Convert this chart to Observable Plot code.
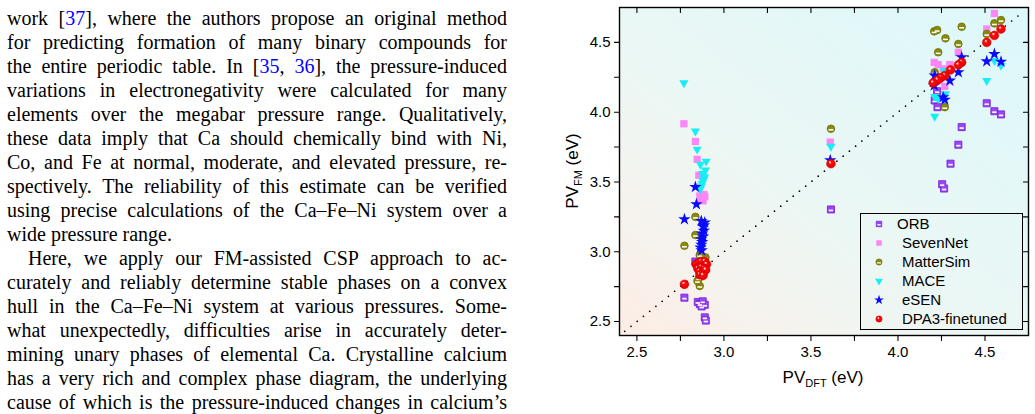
<!DOCTYPE html>
<html>
<head>
<meta charset="utf-8">
<script src="https://cdn.jsdelivr.net/npm/d3@7"></script>
<script src="https://cdn.jsdelivr.net/npm/@observablehq/plot@0.6"></script>
<style>
  body { margin: 0; background: #fff; }
  #page { position: relative; width: 1035px; height: 414px; overflow: hidden; }
  #text { position: absolute; left: 7px; top: 6.0px; width: 500px;
          font-family: "Liberation Serif", "DejaVu Serif", serif; font-size: 20px;
          line-height: 24.0px; color: #000; }
  #text .l { text-align: justify; text-align-last: justify; white-space: normal; }
  #text .last { text-align: left; text-align-last: left; }
  #text .ind { text-indent: 21px; }
  #text a { color: #0000ff; text-decoration: none; }
  #chart { position: absolute; left: 540px; top: 0; }
  .axlab { position: absolute; font-family: "Liberation Sans", Arial, sans-serif;
           font-size: 17px; color: #000; white-space: nowrap; }
  .axlab sub { font-size: 11px; vertical-align: -4px; line-height: 0; }
  #legend { position: absolute; left: 860px; top: 212.7px; width: 160.7px; height: 115.6px;
            border: 1px solid #000; font-family: "Liberation Sans", Arial, sans-serif;
            font-size: 15px; color: #000; }
  #legend .row { position: absolute; white-space: nowrap; }
  #legend svg { position: absolute; overflow: visible; }
</style>
</head>
<body>
<div id="page">
  <div id="text">
    <div class="l">work [<a>37</a>], where the authors propose an original method</div>
    <div class="l">for predicting formation of many binary compounds for</div>
    <div class="l">the entire periodic table. In [<a>35</a>, <a>36</a>], the pressure-induced</div>
    <div class="l">variations in electronegativity were calculated for many</div>
    <div class="l">elements over the megabar pressure range. Qualitatively,</div>
    <div class="l">these data imply that Ca should chemically bind with Ni,</div>
    <div class="l">Co, and Fe at normal, moderate, and elevated pressure, re-</div>
    <div class="l">spectively. The reliability of this estimate can be verified</div>
    <div class="l">using precise calculations of the Ca–Fe–Ni system over a</div>
    <div class="l last">wide pressure range.</div>
    <div class="l ind">Here, we apply our FM-assisted CSP approach to ac-</div>
    <div class="l">curately and reliably determine stable phases on a convex</div>
    <div class="l">hull in the Ca–Fe–Ni system at various pressures. Some-</div>
    <div class="l">what unexpectedly, difficulties arise in accurately deter-</div>
    <div class="l">mining unary phases of elemental Ca. Crystalline calcium</div>
    <div class="l">has a very rich and complex phase diagram, the underlying</div>
    <div class="l">cause of which is the pressure-induced changes in calcium’s</div>
  </div>
  <div id="chart"></div>
  <div class="axlab" id="ylab" style="left:573px; top:171px; transform: translate(-50%,-50%) rotate(-90deg);">PV<sub>FM</sub> (eV)</div>
  <div class="axlab" id="xlab" style="left:823px; top:378px; transform: translate(-50%,-50%);">PV<sub>DFT</sub> (eV)</div>
  <div id="legend"></div>
</div>
<script>
// Pressure × volume term: DFT reference (x) against each foundation model (y), eV
const orb = [
  [2.773, 2.671], [2.836, 2.93], [2.85, 2.64], [2.862, 2.625], [2.878, 2.645], [2.89, 2.62],
  [2.872, 2.608], [2.89, 2.53], [2.896, 2.507],
  [3.615, 3.303],
  [4.211, 4.084], [4.227, 4.036], [4.225, 4.15], [4.366, 3.893], [4.347, 3.767], [4.302, 3.631],
  [4.254, 3.484], [4.265, 3.453], [4.51, 4.064], [4.554, 4.007], [4.592, 3.984]
];
const sevenNet = [
  [2.77, 3.917], [2.836, 3.79], [2.846, 3.662], [2.856, 3.548], [2.862, 3.40], [2.875, 3.385],
  [2.89, 3.395], [2.88, 3.365], [2.868, 3.375], [2.885, 3.41],
  [3.611, 3.786],
  [4.554, 4.707], [4.51, 4.596], [4.347, 4.429], [4.208, 4.357], [4.231, 4.341], [4.298, 4.341],
  [4.26, 4.31], [4.269, 4.184], [4.231, 4.226]
];
const matterSim = [
  [2.836, 3.25], [2.836, 3.12], [2.773, 3.043], [2.861, 2.976], [2.894, 2.96], [2.856, 2.81],
  [2.861, 2.755], [2.848, 2.79], [2.885, 2.85], [2.88, 2.9],
  [3.615, 3.881],
  [4.208, 4.579], [4.225, 4.589], [4.273, 4.529], [4.366, 4.612], [4.347, 4.489], [4.231, 4.429],
  [4.211, 4.286], [4.269, 4.036], [4.51, 4.56], [4.554, 4.636], [4.592, 4.66]
];
const mace = [
  [2.77, 4.21], [2.836, 3.864], [2.846, 3.734], [2.865, 3.626], [2.898, 3.648], [2.894, 3.584],
  [2.888, 3.536], [2.88, 3.51], [2.875, 3.49], [2.87, 3.47], [2.865, 3.45], [2.885, 3.52], [2.878, 3.56],
  [3.615, 3.755],
  [4.554, 4.369], [4.592, 4.334], [4.51, 4.226], [4.211, 4.112], [4.231, 4.096], [4.273, 4.131],
  [4.265, 4.298], [4.211, 3.969]
];
const eSEN = [
  [2.773, 3.233], [2.842, 3.34], [2.836, 3.464],
  [2.87, 3.22], [2.89, 3.21], [2.88, 3.18], [2.885, 3.15], [2.875, 3.13], [2.88, 3.11], [2.87, 3.09],
  [2.875, 3.07], [2.87, 3.05], [2.865, 3.03], [2.872, 3.01], [2.885, 3.19],
  [3.611, 3.655],
  [4.366, 4.393], [4.347, 4.286], [4.298, 4.226], [4.211, 4.262], [4.208, 4.191], [4.26, 4.107],
  [4.269, 4.089], [4.51, 4.364], [4.554, 4.417], [4.592, 4.362]
];
const dpa3 = [
  [2.773, 2.767], [2.84, 2.91], [2.855, 2.92], [2.87, 2.93], [2.89, 2.93], [2.9, 2.91], [2.85, 2.88],
  [2.87, 2.89], [2.885, 2.88], [2.86, 2.86], [2.875, 2.85], [2.895, 2.87], [2.862, 2.835], [2.88, 2.83],
  [3.615, 3.631],
  [4.51, 4.5], [4.554, 4.55], [4.592, 4.596], [4.366, 4.357], [4.347, 4.339], [4.302, 4.303],
  [4.269, 4.262], [4.246, 4.246], [4.227, 4.231], [4.202, 4.21]
];

const seriesNames = ["ORB", "SevenNet", "MatterSim", "MACE", "eSEN", "DPA3-finetuned"];
const axisDomain = [2.4, 4.75];
const majorTicks = [2.5, 3.0, 3.5, 4.0, 4.5];
const allTicks = [2.5, 2.75, 3.0, 3.25, 3.5, 3.75, 4.0, 4.25, 4.5];
const parityLine = [2.43, 4.71];

// symbol helpers (size = area, as d3 symbols expect)
const barInSquare = {draw(ctx, size) { const s = Math.sqrt(size); ctx.rect(-0.3 * s, 0.02 * s, 0.6 * s, 0.24 * s); }};
const barInCircle = {draw(ctx, size) { const d = 2 * Math.sqrt(size / Math.PI); ctx.rect(-0.32 * d, 0.04 * d, 0.64 * d, 0.2 * d); }};
const tickShape = {draw(ctx, l) { ctx.moveTo(0, 0); ctx.lineTo(0, -l); }};

const X = d => d[0], Y = d => d[1];
const styles = {
  ORB: {fill: "#9a46f6", stroke: "#7420d4"},
  SevenNet: {fill: "#fb86f6"},
  MatterSim: {fill: "#8a8a10", stroke: "#6f6f00"},
  MACE: {fill: "#18ecf4"},
  eSEN: {fill: "#0a0aff"},
  DPA3: {fill: "url(#ball)", stroke: "#d00000"}
};

const chart = Plot.plot({
  width: 495, height: 400,
  marginLeft: 79, marginRight: 7, marginTop: 7, marginBottom: 65,
  style: {fontFamily: "'Liberation Sans', Arial, sans-serif", fontSize: "15px", color: "#000", background: "transparent", overflow: "visible"},
  x: {domain: axisDomain},
  y: {domain: axisDomain},
  marks: [
    Plot.frame({fill: "url(#bgGrad)"}),
    Plot.line(parityLine, {x: d => d, y: d => d, stroke: "#000", strokeWidth: 1.7,
      strokeDasharray: "0 8", strokeLinecap: "round"}),
    // ORB: square with open lower band
    Plot.dot(orb, {x: X, y: Y, symbol: "square", r: 4, ...styles.ORB, strokeWidth: 0.8}),
    Plot.dot(orb, {x: X, y: Y, symbol: barInSquare, r: 4, fill: "#fff"}),
    Plot.dot(sevenNet, {x: X, y: Y, symbol: "square", r: 4.1, ...styles.SevenNet}),
    // MatterSim: circle with open lower band
    Plot.dot(matterSim, {x: X, y: Y, symbol: "circle", r: 3.8, ...styles.MatterSim, strokeWidth: 0.8}),
    Plot.dot(matterSim, {x: X, y: Y, symbol: barInCircle, r: 3.8, fill: "#fff"}),
    Plot.dot(mace, {x: X, y: Y, symbol: "triangle", r: 3.4, rotate: 180, ...styles.MACE}),
    Plot.dot(eSEN, {x: X, y: Y, symbol: "star", r: 3.9, ...styles.eSEN}),
    Plot.dot(dpa3, {x: X, y: Y, symbol: "circle", r: 4.4, ...styles.DPA3, strokeWidth: 0.5}),
    Plot.frame({stroke: "#000", strokeWidth: 1.4}),
    // ticks: outward on bottom/left, inward on top/right
    Plot.vector(allTicks, {x: d => d, frameAnchor: "bottom", length: 5, rotate: 180, anchor: "start", shape: tickShape, stroke: "#000", strokeWidth: 1.1}),
    Plot.vector(allTicks, {x: d => d, frameAnchor: "top", length: 5, rotate: 180, anchor: "start", shape: tickShape, stroke: "#000", strokeWidth: 1.1}),
    Plot.vector(allTicks, {y: d => d, frameAnchor: "left", length: 5, rotate: 270, anchor: "start", shape: tickShape, stroke: "#000", strokeWidth: 1.1}),
    Plot.vector(allTicks, {y: d => d, frameAnchor: "right", length: 5, rotate: 270, anchor: "start", shape: tickShape, stroke: "#000", strokeWidth: 1.1}),
    Plot.axisX(majorTicks, {tickSize: 0, tickPadding: 11, tickFormat: d3.format(".1f"), label: null}),
    Plot.axisY(majorTicks, {tickSize: 0, tickPadding: 9, tickFormat: d3.format(".1f"), label: null})
  ]
});

// gradients used by the frame fill and the shaded markers
const defs = d3.select(chart).insert("defs", ":first-child");
const bg = defs.append("linearGradient").attr("id", "bgGrad")
  .attr("x1", 0).attr("y1", 1).attr("x2", 1).attr("y2", 0);
[[0, "#fdede5"], [0.22, "#f5f3ee"], [0.42, "#ecf7f4"], [1, "#dcf8fb"]]
  .forEach(([o, c]) => bg.append("stop").attr("offset", o).attr("stop-color", c));
const ball = defs.append("radialGradient").attr("id", "ball")
  .attr("cx", 0.5).attr("cy", 0.5).attr("r", 0.55).attr("fx", 0.36).attr("fy", 0.3);
[[0, "#ffffff"], [0.14, "#ffb8b8"], [0.32, "#ff0a0a"], [1, "#e20000"]]
  .forEach(([o, c]) => ball.append("stop").attr("offset", o).attr("stop-color", c));

document.getElementById("chart").appendChild(chart);

// legend
const legend = d3.select("#legend");
const legendSymbols = [
  {name: seriesNames[0], type: d3.symbolSquare, size: 30, ...styles.ORB, bar: "square", textX: 36},
  {name: seriesNames[1], type: d3.symbolSquare, size: 30, ...styles.SevenNet, textX: 41},
  {name: seriesNames[2], type: d3.symbolCircle, size: 30, ...styles.MatterSim, bar: "circle", textX: 41},
  {name: seriesNames[3], type: d3.symbolTriangle, size: 26, ...styles.MACE, rotate: 180, textX: 41},
  {name: seriesNames[4], type: d3.symbolStar, size: 30, ...styles.eSEN, textX: 41},
  {name: seriesNames[5], type: d3.symbolCircle, size: 30, fill: "#ff1010", stroke: "#d00000", ball: true, textX: 41}
];
legendSymbols.forEach((s, i) => {
  const cy = 10.6 + i * 18.95;
  const svg = legend.append("svg").attr("width", 1).attr("height", 1)
    .style("left", "18.3px").style("top", cy + "px");
  if (s.ball) {
    const g = svg.append("defs").append("radialGradient").attr("id", "ballL")
      .attr("cx", 0.5).attr("cy", 0.5).attr("r", 0.55).attr("fx", 0.36).attr("fy", 0.3);
    [[0, "#ffffff"], [0.16, "#ffb8b8"], [0.36, "#ff0a0a"], [1, "#e20000"]]
      .forEach(([o, c]) => g.append("stop").attr("offset", o).attr("stop-color", c));
  }
  svg.append("path").attr("d", d3.symbol(s.type, s.size)())
    .attr("fill", s.ball ? "url(#ballL)" : s.fill).attr("stroke", s.stroke || "none").attr("stroke-width", 0.7)
    .attr("transform", s.rotate ? `rotate(${s.rotate})` : null);
  if (s.bar === "square") svg.append("path").attr("d", d3.symbol(barInSquare, s.size)()).attr("fill", "#fff");
  if (s.bar === "circle") svg.append("path").attr("d", d3.symbol(barInCircle, s.size)()).attr("fill", "#fff");
  legend.append("div").attr("class", "row").style("left", s.textX + "px")
    .style("top", (cy - 9) + "px").style("line-height", "18px").text(s.name);
});
</script>
</body>
</html>
